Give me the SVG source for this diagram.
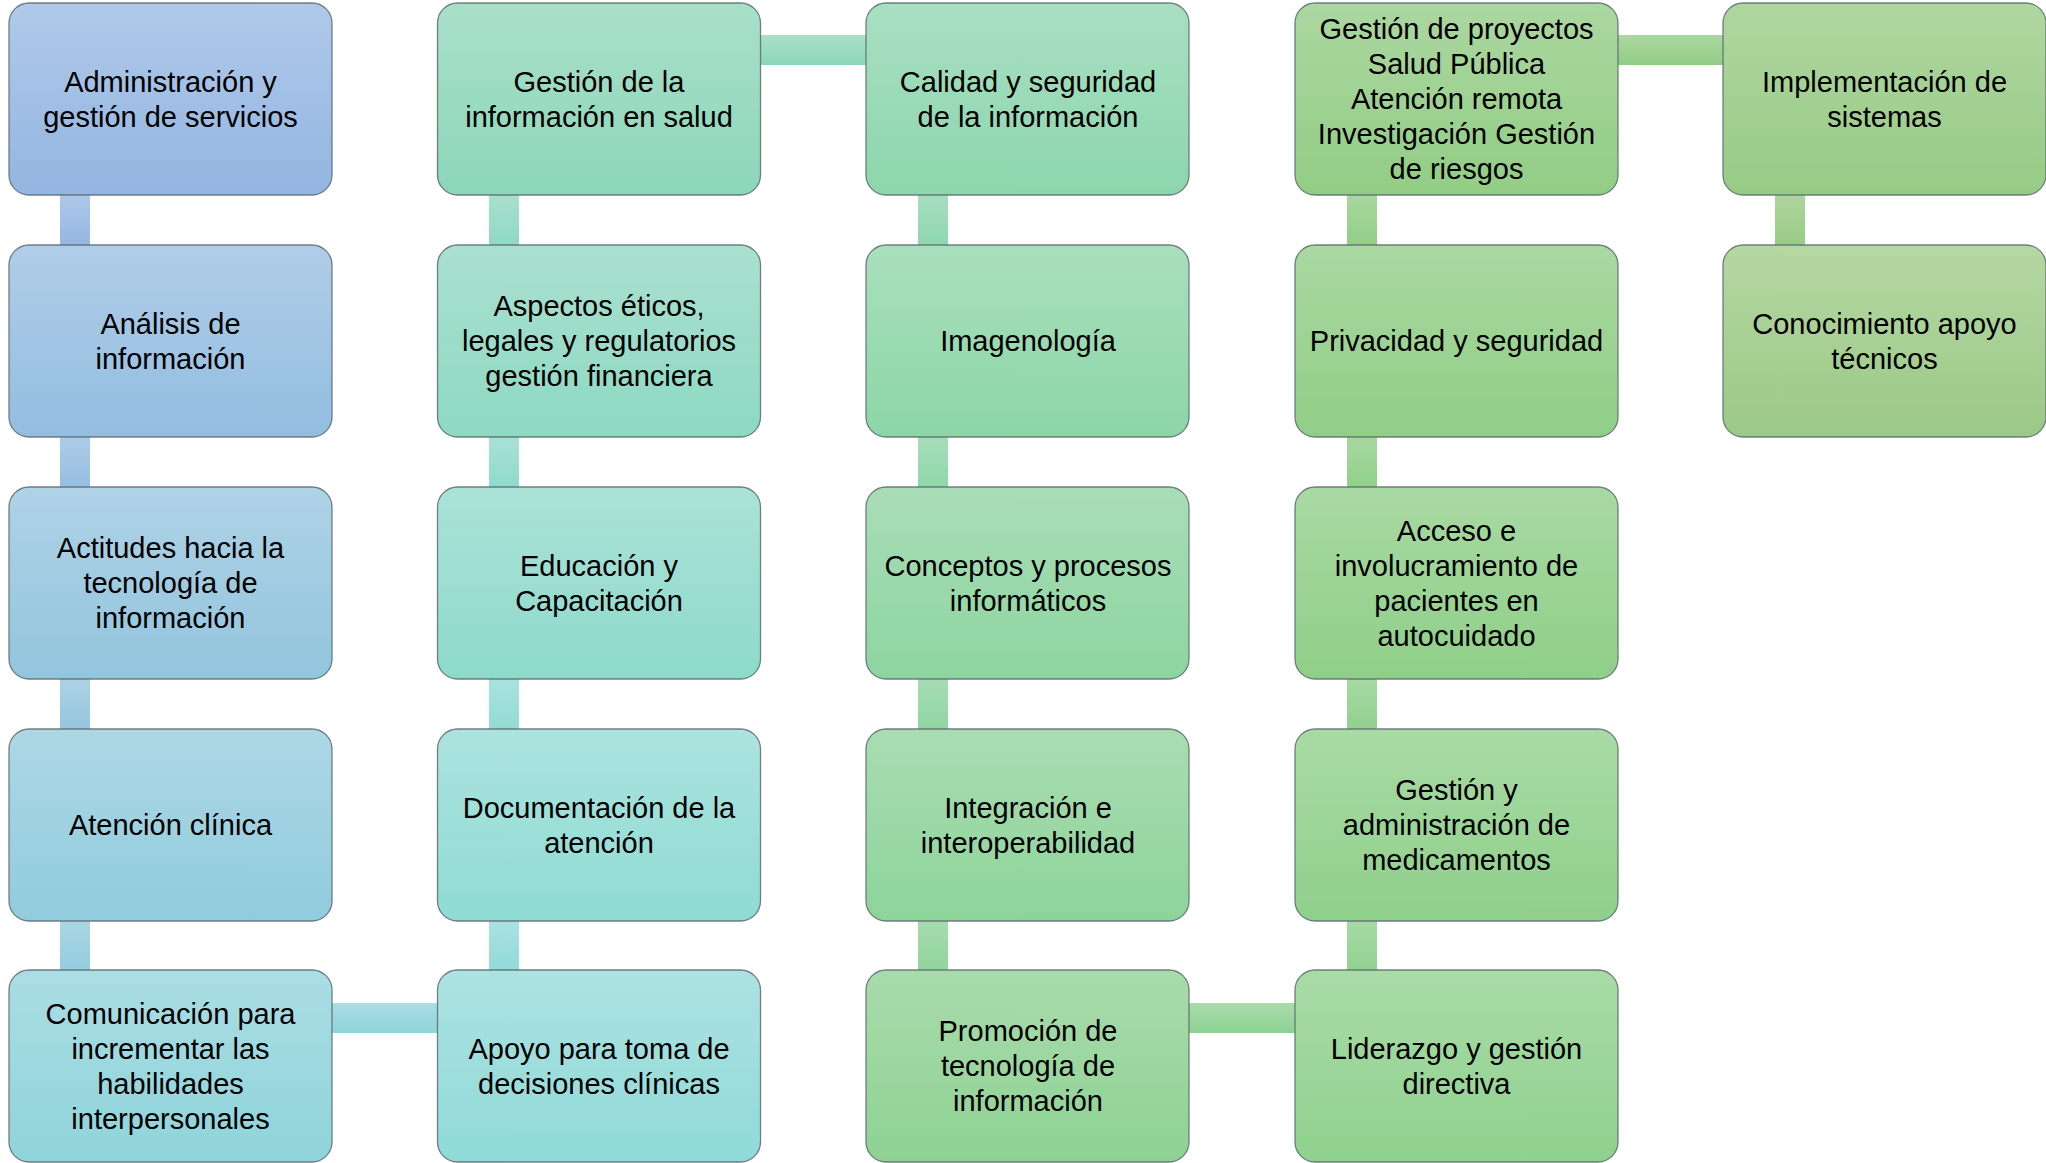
<svg xmlns="http://www.w3.org/2000/svg" width="2046" height="1163" viewBox="0 0 2046 1163">
<style>
.node rect{stroke:#5c6b70;stroke-width:1.3;stroke-opacity:0.85}
.label{font-family:"Liberation Sans",Arial,sans-serif;font-size:29px;fill:#000;text-anchor:middle}
</style>
<defs>
<linearGradient id="g1" x1="0" y1="0" x2="0" y2="1"><stop offset="0" stop-color="#b0c9ea"/><stop offset="1" stop-color="#93b5e1"/></linearGradient>
<linearGradient id="g2" x1="0" y1="0" x2="0" y2="1"><stop offset="0" stop-color="#b0cde8"/><stop offset="1" stop-color="#93bde0"/></linearGradient>
<linearGradient id="g3" x1="0" y1="0" x2="0" y2="1"><stop offset="0" stop-color="#afd2e6"/><stop offset="1" stop-color="#92c5de"/></linearGradient>
<linearGradient id="g4" x1="0" y1="0" x2="0" y2="1"><stop offset="0" stop-color="#add7e5"/><stop offset="1" stop-color="#90ccdd"/></linearGradient>
<linearGradient id="g5" x1="0" y1="0" x2="0" y2="1"><stop offset="0" stop-color="#abdde4"/><stop offset="1" stop-color="#8ed4da"/></linearGradient>
<linearGradient id="g6" x1="0" y1="0" x2="0" y2="1"><stop offset="0" stop-color="#ade2e2"/><stop offset="1" stop-color="#8fdad8"/></linearGradient>
<linearGradient id="g7" x1="0" y1="0" x2="0" y2="1"><stop offset="0" stop-color="#ace3df"/><stop offset="1" stop-color="#8fdbd3"/></linearGradient>
<linearGradient id="g8" x1="0" y1="0" x2="0" y2="1"><stop offset="0" stop-color="#abe2d7"/><stop offset="1" stop-color="#8ddacb"/></linearGradient>
<linearGradient id="g9" x1="0" y1="0" x2="0" y2="1"><stop offset="0" stop-color="#aae0d0"/><stop offset="1" stop-color="#8dd9c1"/></linearGradient>
<linearGradient id="g10" x1="0" y1="0" x2="0" y2="1"><stop offset="0" stop-color="#a9dfc9"/><stop offset="1" stop-color="#8cd7b9"/></linearGradient>
<linearGradient id="g11" x1="0" y1="0" x2="0" y2="1"><stop offset="0" stop-color="#a9dfc2"/><stop offset="1" stop-color="#8cd6ad"/></linearGradient>
<linearGradient id="g12" x1="0" y1="0" x2="0" y2="1"><stop offset="0" stop-color="#a9dfbd"/><stop offset="1" stop-color="#8cd6a6"/></linearGradient>
<linearGradient id="g13" x1="0" y1="0" x2="0" y2="1"><stop offset="0" stop-color="#a9ddb7"/><stop offset="1" stop-color="#8dd5a0"/></linearGradient>
<linearGradient id="g14" x1="0" y1="0" x2="0" y2="1"><stop offset="0" stop-color="#a9dcb2"/><stop offset="1" stop-color="#8dd49a"/></linearGradient>
<linearGradient id="g15" x1="0" y1="0" x2="0" y2="1"><stop offset="0" stop-color="#a9dbac"/><stop offset="1" stop-color="#8ed293"/></linearGradient>
<linearGradient id="g16" x1="0" y1="0" x2="0" y2="1"><stop offset="0" stop-color="#a9dba7"/><stop offset="1" stop-color="#8fd18e"/></linearGradient>
<linearGradient id="g17" x1="0" y1="0" x2="0" y2="1"><stop offset="0" stop-color="#a9daa5"/><stop offset="1" stop-color="#8fd08b"/></linearGradient>
<linearGradient id="g18" x1="0" y1="0" x2="0" y2="1"><stop offset="0" stop-color="#a9d9a3"/><stop offset="1" stop-color="#8fcf88"/></linearGradient>
<linearGradient id="g19" x1="0" y1="0" x2="0" y2="1"><stop offset="0" stop-color="#aad8a1"/><stop offset="1" stop-color="#90ce86"/></linearGradient>
<linearGradient id="g20" x1="0" y1="0" x2="0" y2="1"><stop offset="0" stop-color="#abd7a0"/><stop offset="1" stop-color="#92cd85"/></linearGradient>
<linearGradient id="g21" x1="0" y1="0" x2="0" y2="1"><stop offset="0" stop-color="#b0d6a0"/><stop offset="1" stop-color="#97cb85"/></linearGradient>
<linearGradient id="g22" x1="0" y1="0" x2="0" y2="1"><stop offset="0" stop-color="#b5d7a2"/><stop offset="1" stop-color="#9bc986"/></linearGradient>
</defs>
<rect width="2046" height="1163" fill="#ffffff"/>
<g id="connectors">
<rect x="60" y="190" width="30" height="60" fill="url(#g1)"/>
<rect x="60" y="432" width="30" height="60" fill="url(#g2)"/>
<rect x="60" y="674" width="30" height="60" fill="url(#g3)"/>
<rect x="60" y="916" width="30" height="60" fill="url(#g4)"/>
<rect x="328" y="1003" width="113" height="30" fill="url(#g5)"/>
<rect x="489" y="916" width="30" height="60" fill="url(#g6)"/>
<rect x="489" y="674" width="30" height="60" fill="url(#g7)"/>
<rect x="489" y="432" width="30" height="60" fill="url(#g8)"/>
<rect x="489" y="190" width="30" height="60" fill="url(#g9)"/>
<rect x="757" y="35" width="113" height="30" fill="url(#g10)"/>
<rect x="918" y="190" width="30" height="60" fill="url(#g11)"/>
<rect x="918" y="432" width="30" height="60" fill="url(#g12)"/>
<rect x="918" y="674" width="30" height="60" fill="url(#g13)"/>
<rect x="918" y="916" width="30" height="60" fill="url(#g14)"/>
<rect x="1186" y="1003" width="113" height="30" fill="url(#g15)"/>
<rect x="1347" y="916" width="30" height="60" fill="url(#g16)"/>
<rect x="1347" y="674" width="30" height="60" fill="url(#g17)"/>
<rect x="1347" y="432" width="30" height="60" fill="url(#g18)"/>
<rect x="1347" y="190" width="30" height="60" fill="url(#g19)"/>
<rect x="1614" y="35" width="113" height="30" fill="url(#g20)"/>
<rect x="1775" y="190" width="30" height="60" fill="url(#g21)"/>
</g>
<g id="n1" class="node"><rect x="9" y="3" width="323" height="192" rx="20" fill="url(#g1)"/><text class="label"><tspan x="170.5" y="91.5">Administración y</tspan><tspan x="170.5" y="126.5">gestión de servicios</tspan></text></g>
<g id="n2" class="node"><rect x="9" y="245" width="323" height="192" rx="20" fill="url(#g2)"/><text class="label"><tspan x="170.5" y="333.5">Análisis de</tspan><tspan x="170.5" y="368.5">información</tspan></text></g>
<g id="n3" class="node"><rect x="9" y="487" width="323" height="192" rx="20" fill="url(#g3)"/><text class="label"><tspan x="170.5" y="558">Actitudes hacia la</tspan><tspan x="170.5" y="593">tecnología de</tspan><tspan x="170.5" y="628">información</tspan></text></g>
<g id="n4" class="node"><rect x="9" y="729" width="323" height="192" rx="20" fill="url(#g4)"/><text class="label"><tspan x="170.5" y="835">Atención clínica</tspan></text></g>
<g id="n5" class="node"><rect x="9" y="970" width="323" height="192" rx="20" fill="url(#g5)"/><text class="label"><tspan x="170.5" y="1023.5">Comunicación para</tspan><tspan x="170.5" y="1058.5">incrementar las</tspan><tspan x="170.5" y="1093.5">habilidades</tspan><tspan x="170.5" y="1128.5">interpersonales</tspan></text></g>
<g id="n6" class="node"><rect x="437.5" y="970" width="323" height="192" rx="20" fill="url(#g6)"/><text class="label"><tspan x="599" y="1058.5">Apoyo para toma de</tspan><tspan x="599" y="1093.5">decisiones clínicas</tspan></text></g>
<g id="n7" class="node"><rect x="437.5" y="729" width="323" height="192" rx="20" fill="url(#g7)"/><text class="label"><tspan x="599" y="817.5">Documentación de la</tspan><tspan x="599" y="852.5">atención</tspan></text></g>
<g id="n8" class="node"><rect x="437.5" y="487" width="323" height="192" rx="20" fill="url(#g8)"/><text class="label"><tspan x="599" y="575.5">Educación y</tspan><tspan x="599" y="610.5">Capacitación</tspan></text></g>
<g id="n9" class="node"><rect x="437.5" y="245" width="323" height="192" rx="20" fill="url(#g9)"/><text class="label"><tspan x="599" y="316">Aspectos éticos,</tspan><tspan x="599" y="351">legales y regulatorios</tspan><tspan x="599" y="386">gestión financiera</tspan></text></g>
<g id="n10" class="node"><rect x="437.5" y="3" width="323" height="192" rx="20" fill="url(#g10)"/><text class="label"><tspan x="599" y="91.5">Gestión de la</tspan><tspan x="599" y="126.5">información en salud</tspan></text></g>
<g id="n11" class="node"><rect x="866" y="3" width="323" height="192" rx="20" fill="url(#g11)"/><text class="label"><tspan x="1028" y="91.5">Calidad y seguridad</tspan><tspan x="1028" y="126.5">de la información</tspan></text></g>
<g id="n12" class="node"><rect x="866" y="245" width="323" height="192" rx="20" fill="url(#g12)"/><text class="label"><tspan x="1028" y="351">Imagenología</tspan></text></g>
<g id="n13" class="node"><rect x="866" y="487" width="323" height="192" rx="20" fill="url(#g13)"/><text class="label"><tspan x="1028" y="575.5">Conceptos y procesos</tspan><tspan x="1028" y="610.5">informáticos</tspan></text></g>
<g id="n14" class="node"><rect x="866" y="729" width="323" height="192" rx="20" fill="url(#g14)"/><text class="label"><tspan x="1028" y="817.5">Integración e</tspan><tspan x="1028" y="852.5">interoperabilidad</tspan></text></g>
<g id="n15" class="node"><rect x="866" y="970" width="323" height="192" rx="20" fill="url(#g15)"/><text class="label"><tspan x="1028" y="1041">Promoción de</tspan><tspan x="1028" y="1076">tecnología de</tspan><tspan x="1028" y="1111">información</tspan></text></g>
<g id="n16" class="node"><rect x="1295" y="970" width="323" height="192" rx="20" fill="url(#g16)"/><text class="label"><tspan x="1456.5" y="1058.5">Liderazgo y gestión</tspan><tspan x="1456.5" y="1093.5">directiva</tspan></text></g>
<g id="n17" class="node"><rect x="1295" y="729" width="323" height="192" rx="20" fill="url(#g17)"/><text class="label"><tspan x="1456.5" y="800">Gestión y</tspan><tspan x="1456.5" y="835">administración de</tspan><tspan x="1456.5" y="870">medicamentos</tspan></text></g>
<g id="n18" class="node"><rect x="1295" y="487" width="323" height="192" rx="20" fill="url(#g18)"/><text class="label"><tspan x="1456.5" y="540.5">Acceso e</tspan><tspan x="1456.5" y="575.5">involucramiento de</tspan><tspan x="1456.5" y="610.5">pacientes en</tspan><tspan x="1456.5" y="645.5">autocuidado</tspan></text></g>
<g id="n19" class="node"><rect x="1295" y="245" width="323" height="192" rx="20" fill="url(#g19)"/><text class="label"><tspan x="1456.5" y="351">Privacidad y seguridad</tspan></text></g>
<g id="n20" class="node"><rect x="1295" y="3" width="323" height="192" rx="20" fill="url(#g20)"/><text class="label"><tspan x="1456.5" y="39">Gestión de proyectos</tspan><tspan x="1456.5" y="74">Salud Pública</tspan><tspan x="1456.5" y="109">Atención remota</tspan><tspan x="1456.5" y="144">Investigación Gestión</tspan><tspan x="1456.5" y="179">de riesgos</tspan></text></g>
<g id="n21" class="node"><rect x="1723" y="3" width="323" height="192" rx="20" fill="url(#g21)"/><text class="label"><tspan x="1884.5" y="91.5">Implementación de</tspan><tspan x="1884.5" y="126.5">sistemas</tspan></text></g>
<g id="n22" class="node"><rect x="1723" y="245" width="323" height="192" rx="20" fill="url(#g22)"/><text class="label"><tspan x="1884.5" y="333.5">Conocimiento apoyo</tspan><tspan x="1884.5" y="368.5">técnicos</tspan></text></g>
</svg>
